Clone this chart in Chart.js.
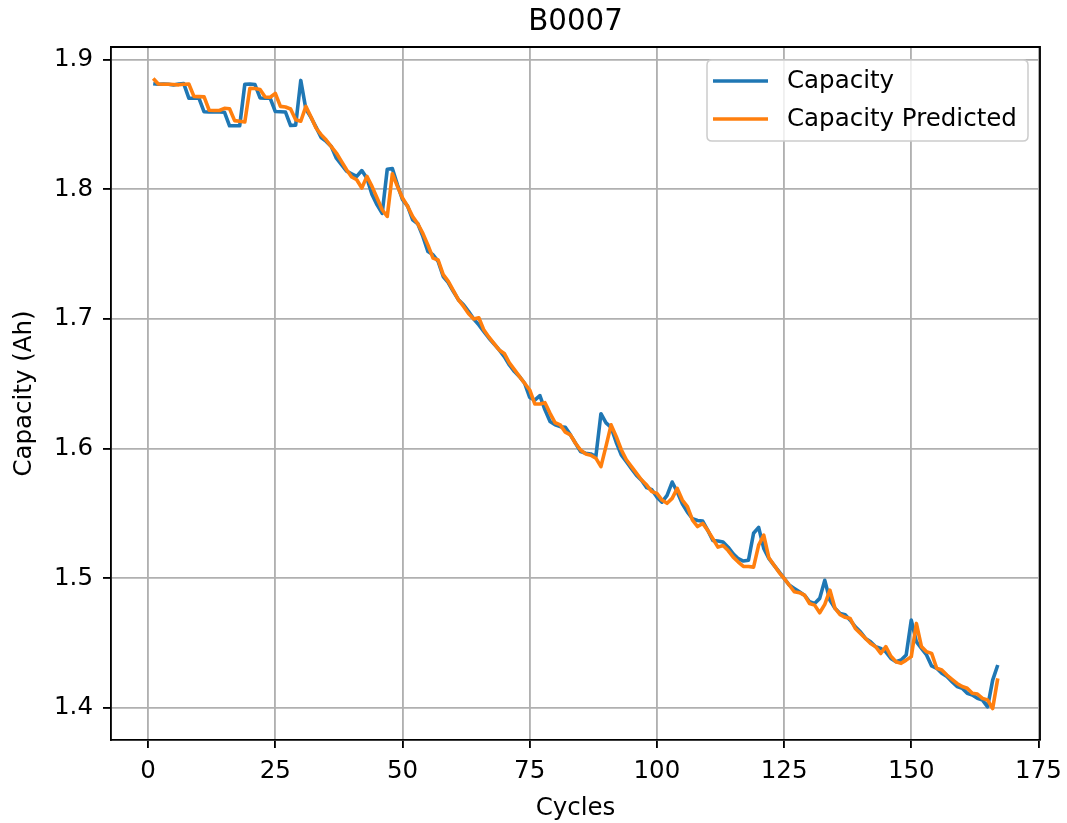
<!DOCTYPE html>
<html>
<head>
<meta charset="utf-8">
<script src="https://cdn.jsdelivr.net/npm/chart.js@4.4.1/dist/chart.umd.min.js"></script>
<style>
  html, body { margin: 0; padding: 0; background: #ffffff; }
  #wrap { position: relative; width: 1067px; height: 823px; }
</style>
</head>
<body>
<div id="wrap"><canvas id="c"></canvas></div>
<script>
// ---- data ----
const chartTitle = 'B0007';
const xLabel = 'Cycles';
const yLabel = 'Capacity (Ah)';
const seriesNames = ['Capacity', 'Capacity Predicted'];

const xTicks = [0, 25, 50, 75, 100, 125, 150, 175];
const yTicks = [1.4, 1.5, 1.6, 1.7, 1.8, 1.9];

const capacity = [
  1.8815, 1.8810, 1.8812, 1.8810, 1.8805, 1.8812, 1.8815,
  1.8703, 1.8702, 1.8702,
  1.8598, 1.8597, 1.8597, 1.8596, 1.8595,
  1.8490, 1.8490, 1.8490,
  1.8810, 1.8812, 1.8808,
  1.8705, 1.8703, 1.8702,
  1.8600, 1.8598, 1.8596,
  1.8492, 1.8495,
  1.8840,
  1.8620, 1.8555, 1.8480, 1.8400, 1.8370, 1.8330, 1.8240, 1.8190, 1.8140, 1.8120,
  1.8100, 1.8145, 1.8085, 1.7960, 1.7880, 1.7815, 1.8155, 1.8160, 1.8035, 1.7920,
  1.7870, 1.7765, 1.7735, 1.7637, 1.7520, 1.7495, 1.7444, 1.7328, 1.7280, 1.7212,
  1.7148, 1.7110, 1.7058, 1.7000, 1.6955, 1.6903, 1.6852, 1.6808, 1.6762, 1.6710,
  1.6646, 1.6595, 1.6556, 1.6505, 1.6395, 1.6375, 1.6410, 1.6300, 1.6210, 1.6184,
  1.6170, 1.6165, 1.6107, 1.6042, 1.5978, 1.5965, 1.5960, 1.5939, 1.6270, 1.6200,
  1.6165, 1.6050, 1.5952, 1.5900, 1.5846, 1.5794, 1.5756, 1.5700, 1.5684, 1.5627,
  1.5588, 1.5640, 1.5743, 1.5666, 1.5576, 1.5511, 1.5460, 1.5447, 1.5442, 1.5370,
  1.5293, 1.5288, 1.5280, 1.5241, 1.5190, 1.5152, 1.5134, 1.5140, 1.5348, 1.5394,
  1.5232, 1.5155, 1.5103, 1.5052, 1.5000, 1.4949, 1.4923, 1.4897, 1.4871, 1.4820,
  1.4807, 1.4846, 1.4985, 1.4833, 1.4770, 1.4730, 1.4720, 1.4678, 1.4627, 1.4589,
  1.4537, 1.4511, 1.4473, 1.4460, 1.4434, 1.4383, 1.4357, 1.4371, 1.4410, 1.4679,
  1.4512, 1.4460, 1.4410, 1.4325, 1.4307, 1.4268, 1.4243, 1.4204, 1.4166, 1.4153,
  1.4114, 1.4101, 1.4075, 1.4062, 1.4010, 1.4216, 1.4332
];

const predicted = [
  1.8855,
  1.8812, 1.8810, 1.8810, 1.8808, 1.8806, 1.8810, 1.8812,
  1.8717, 1.8715, 1.8713,
  1.8610, 1.8608, 1.8608,
  1.8625, 1.8622,
  1.8530, 1.8525, 1.8520,
  1.8780, 1.8778, 1.8770,
  1.8712, 1.8710,
  1.8740,
  1.8640, 1.8635, 1.8620,
  1.8537, 1.8525,
  1.8640, 1.8560, 1.8473, 1.8422, 1.8380, 1.8330, 1.8280, 1.8216, 1.8151, 1.8095,
  1.8074, 1.8010, 1.8100, 1.8023, 1.7933, 1.7843, 1.7791, 1.8120, 1.8023, 1.7933,
  1.7870, 1.7790, 1.7735, 1.7660, 1.7570, 1.7470, 1.7455, 1.7342, 1.7290, 1.7220,
  1.7148, 1.7097, 1.7040, 1.7000, 1.7010, 1.6915, 1.6860, 1.6810, 1.6762, 1.6735,
  1.6662, 1.6610, 1.6556, 1.6505, 1.6453, 1.6345, 1.6345, 1.6355, 1.6273, 1.6200,
  1.6184, 1.6128, 1.6107, 1.6042, 1.5990, 1.5960, 1.5950, 1.5927, 1.5862, 1.6020,
  1.6184, 1.6095, 1.5992, 1.5915, 1.5862, 1.5810, 1.5759, 1.5720, 1.5669, 1.5656,
  1.5604, 1.5579, 1.5617, 1.5694, 1.5604, 1.5553, 1.5450, 1.5400, 1.5424, 1.5370,
  1.5306, 1.5241, 1.5254, 1.5215, 1.5164, 1.5126, 1.5092, 1.5092, 1.5087, 1.5257,
  1.5334, 1.5160, 1.5103, 1.5047, 1.5000, 1.4949, 1.4897, 1.4890, 1.4871, 1.4807,
  1.4794, 1.4735, 1.4800, 1.4910, 1.4770, 1.4720, 1.4700, 1.4690, 1.4614, 1.4576,
  1.4537, 1.4498, 1.4473, 1.4421, 1.4474, 1.4400, 1.4358, 1.4345, 1.4370, 1.4397,
  1.4653, 1.4474, 1.4435, 1.4422, 1.4307, 1.4294, 1.4255, 1.4222, 1.4190, 1.4166,
  1.4153, 1.4114, 1.4108, 1.4075, 1.4062, 1.3997, 1.4229
];

// cycle numbers are simply the 1-based position of each measurement
const cycles = capacity.map((_, i) => i + 1);

// ---- styling ----
const FONT = '"DejaVu Sans", "Liberation Sans", sans-serif';
const FS = 24.5;
const BLUE = '#1f77b4';
const ORANGE = '#ff7f0e';
const LW = 1.85;

const frame = {
  id: 'frame',
  afterDraw(chart) {
    const { ctx, chartArea: a } = chart;
    ctx.save();
    ctx.strokeStyle = '#000';
    ctx.lineWidth = LW;
    ctx.beginPath();
    ctx.moveTo(a.left, a.top);
    ctx.lineTo(a.right, a.top);
    ctx.lineTo(a.right, a.bottom);
    ctx.stroke();
    ctx.restore();
  }
};

const mplLegend = {
  id: 'mplLegend',
  afterDraw(chart) {
    const { ctx, chartArea: a } = chart;
    const x0 = a.right - 333, y0 = a.top + 13, w = 321, h = 81, r = 5;
    ctx.save();
    ctx.beginPath();
    ctx.moveTo(x0 + r, y0);
    ctx.lineTo(x0 + w - r, y0);
    ctx.quadraticCurveTo(x0 + w, y0, x0 + w, y0 + r);
    ctx.lineTo(x0 + w, y0 + h - r);
    ctx.quadraticCurveTo(x0 + w, y0 + h, x0 + w - r, y0 + h);
    ctx.lineTo(x0 + r, y0 + h);
    ctx.quadraticCurveTo(x0, y0 + h, x0, y0 + h - r);
    ctx.lineTo(x0, y0 + r);
    ctx.quadraticCurveTo(x0, y0, x0 + r, y0);
    ctx.closePath();
    ctx.fillStyle = 'rgba(255,255,255,0.8)';
    ctx.fill();
    ctx.strokeStyle = '#cccccc';
    ctx.lineWidth = 1.5;
    ctx.stroke();
    chart.data.datasets.forEach((ds, i) => {
      const yy = y0 + 21 + i * 38;
      ctx.strokeStyle = ds.borderColor;
      ctx.lineWidth = 3.6;
      ctx.lineCap = 'butt';
      ctx.beginPath();
      ctx.moveTo(x0 + 6, yy);
      ctx.lineTo(x0 + 61, yy);
      ctx.stroke();
      ctx.fillStyle = '#000';
      ctx.font = FS + 'px ' + FONT;
      ctx.textBaseline = 'middle';
      ctx.textAlign = 'left';
      ctx.fillText(ds.label, x0 + 80, yy + 1);
    });
    ctx.restore();
  }
};

const axisCommon = {
  type: 'linear',
  grid: {
    color: '#b0b0b0', lineWidth: LW, tickColor: '#000', tickWidth: LW,
    tickLength: 8, drawTicks: true, drawOnChartArea: true
  },
  border: { display: true, color: '#000', width: LW }
};

new Chart(document.getElementById('c'), {
  type: 'line',
  data: {
    datasets: [
      {
        label: seriesNames[0],
        data: cycles.map((c, i) => ({ x: c, y: capacity[i] })),
        borderColor: BLUE, backgroundColor: BLUE,
        borderWidth: 3.6, pointRadius: 0, tension: 0, fill: false,
        borderJoinStyle: 'round', order: 1
      },
      {
        label: seriesNames[1],
        data: cycles.map((c, i) => ({ x: c, y: predicted[i] })),
        borderColor: ORANGE, backgroundColor: ORANGE,
        borderWidth: 3.6, pointRadius: 0, tension: 0, fill: false,
        borderJoinStyle: 'round', order: 0
      }
    ]
  },
  options: {
    responsive: true,
    maintainAspectRatio: false,
    animation: false,
    devicePixelRatio: 1,
    layout: { padding: { left: 0, right: 27, top: 0, bottom: 0 } },
    plugins: {
      legend: { display: false },
      tooltip: { enabled: false },
      title: {
        display: true, text: chartTitle, color: '#000', fullSize: false,
        font: { family: FONT, size: 29.3, weight: 'normal', lineHeight: 1.2 },
        padding: { top: 5, bottom: 6.8 }
      }
    },
    scales: {
      x: {
        ...axisCommon,
        position: 'bottom',
        min: -7.3, max: 175.3,
        afterBuildTicks: s => { s.ticks = xTicks.map(v => ({ value: v })); },
        afterFit: s => { s.height = 83; s.paddingLeft = 0; s.paddingRight = 0; },
        ticks: {
          color: '#000', font: { family: FONT, size: FS }, padding: 9,
          maxRotation: 0, autoSkip: false, callback: v => String(v)
        },
        title: {
          display: true, text: xLabel, color: '#000',
          font: { family: FONT, size: FS, lineHeight: 1.2 },
          padding: { top: 0, bottom: 0 }
        }
      },
      y: {
        ...axisCommon,
        position: 'left',
        min: 1.3754, max: 1.9098,
        afterBuildTicks: s => { s.ticks = yTicks.map(v => ({ value: v })); },
        afterFit: s => { s.width = 111; s.paddingTop = 0; s.paddingBottom = 0; },
        ticks: {
          color: '#000', font: { family: FONT, size: FS }, padding: 10,
          autoSkip: false, callback: v => Number(v).toFixed(1)
        },
        title: {
          display: true, text: yLabel, color: '#000',
          font: { family: FONT, size: FS, lineHeight: 1.2 },
          padding: { top: 10, bottom: 0 }
        }
      }
    }
  },
  plugins: [frame, mplLegend]
});
</script>
</body>
</html>
